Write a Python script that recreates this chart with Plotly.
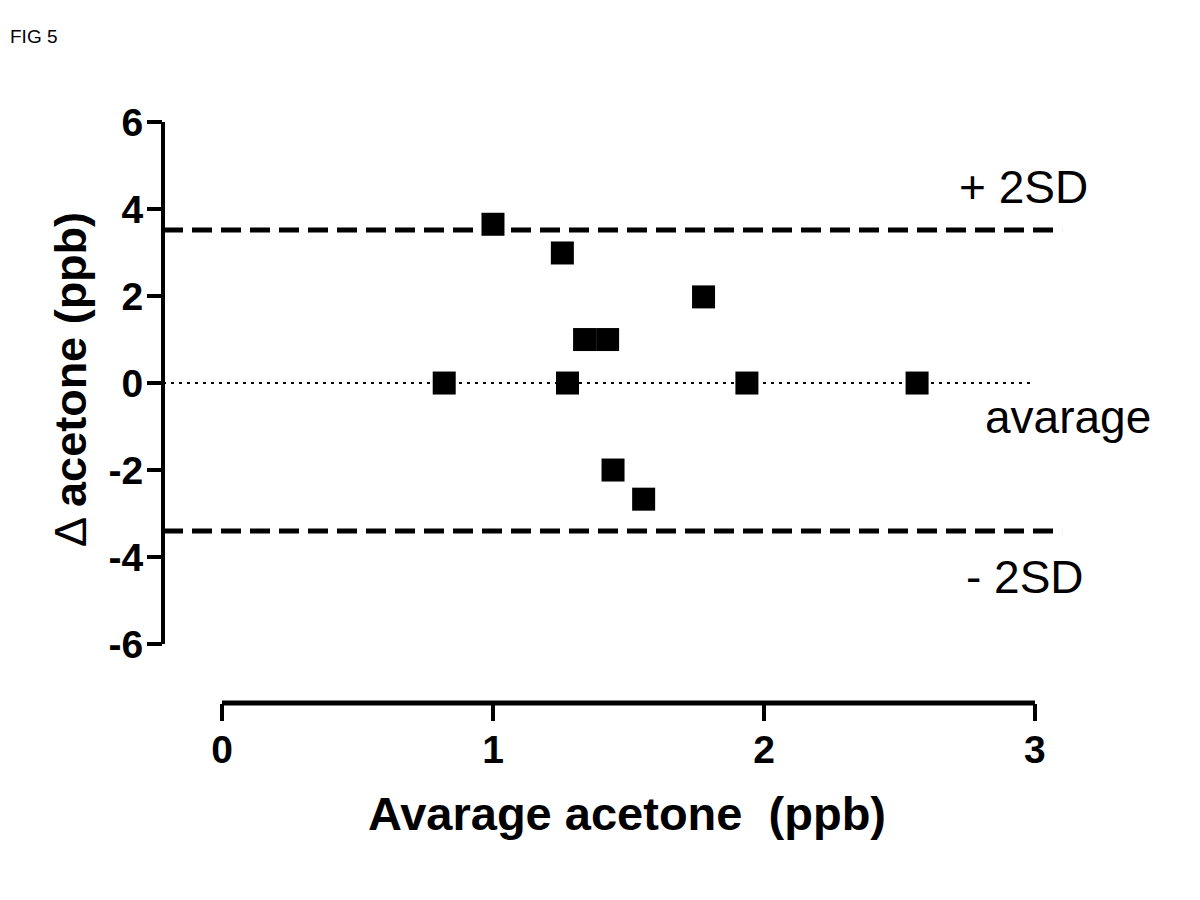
import plotly.graph_objects as go

# Data (Bland-Altman plot)
avg_acetone = [0.82, 1.0, 1.256, 1.275, 1.338, 1.423, 1.443, 1.556, 1.777, 1.937, 2.565]
delta_acetone = [0.0, 3.65, 2.99, 0.0, 1.0, 1.0, -2.0, -2.67, 1.98, 0.0, 0.0]
mean_diff = 0.0
upper_2sd = 3.52
lower_2sd = -3.40

x_ticks = [0, 1, 2, 3]
y_ticks = [-6, -4, -2, 0, 2, 4, 6]

x_range = [-0.2177, 3.240]
y_range = [-7.356, 6.3]
line_x_end_sd = 3.1
line_x_end_mean = 3.0

# page body has an 8px margin; figure sized to fit the 1200x900 window
OFF = 8
PL, PT, PW, PH = 163, 109, 937, 594  # plot area in window pixels


def px(x):
    return (x - PL) / PW


def py(y):
    return (PT + PH - y) / PH


fig = go.Figure()

# +/- 2SD dashed lines
for val in (upper_2sd, lower_2sd):
    fig.add_trace(go.Scatter(
        x=[x_range[0], line_x_end_sd], y=[val, val], mode="lines",
        line=dict(color="black", width=5, dash="20px,9px"),
        hoverinfo="skip", showlegend=False))

# mean dotted line
fig.add_trace(go.Scatter(
    x=[x_range[0], line_x_end_mean], y=[mean_diff, mean_diff], mode="lines",
    line=dict(color="black", width=2, dash="3px,5px"),
    hoverinfo="skip", showlegend=False))

# data points
fig.add_trace(go.Scatter(
    x=avg_acetone, y=delta_acetone, mode="markers",
    marker=dict(symbol="square", size=23, color="black", line=dict(width=0)),
    showlegend=False))

W, H = 1200 - 2 * OFF, 900 - 2 * OFF
ann = dict(xref="paper", yref="paper", xanchor="center", yanchor="middle", showarrow=False)
fig.update_layout(
    width=W, height=H,
    margin=dict(l=PL - OFF, r=W - (PL - OFF) - PW, t=PT - OFF, b=H - (PT - OFF) - PH),
    plot_bgcolor="white", paper_bgcolor="white",
    font=dict(family="Liberation Sans, Arial, sans-serif", color="black"),
    xaxis=dict(range=x_range, tickvals=x_ticks, ticktext=[str(v) for v in x_ticks],
               showgrid=False, zeroline=False, showline=False,
               ticks="outside", ticklen=17, tickwidth=4, tickcolor="black",
               ticklabelstandoff=-5,
               tickfont=dict(size=39, family="Liberation Sans, Arial", weight="bold")),
    yaxis=dict(range=y_range, tickvals=y_ticks, ticktext=[str(v) for v in y_ticks],
               showgrid=False, zeroline=False, showline=False,
               ticks="outside", ticklen=15, tickwidth=4, tickcolor="black",
               ticklabelstandoff=-4,
               tickfont=dict(size=39, family="Liberation Sans, Arial", weight="bold")),
    shapes=[
        # y axis line (from -6 to 6)
        dict(type="line", xref="paper", yref="y", x0=0, x1=0, y0=y_ticks[0], y1=y_ticks[-1],
             line=dict(color="black", width=4)),
        # x axis line (from 0 to 3), offset below
        dict(type="line", xref="x", yref="paper", x0=x_ticks[0], x1=x_ticks[-1], y0=0, y1=0,
             line=dict(color="black", width=5)),
    ],
    annotations=[
        dict(ann, text="+ 2SD", x=px(1023), y=py(187), font=dict(size=46)),
        dict(ann, text="avarage", x=px(1068), y=py(417), font=dict(size=46)),
        dict(ann, text="- 2SD", x=px(1025), y=py(577), font=dict(size=46)),
        dict(ann, text="<b>Avarage acetone  (ppb)</b>", x=px(627), y=py(813),
             font=dict(size=47)),
        dict(ann, text="Δ <b>acetone (ppb)</b>", textangle=-90, x=px(70), y=py(380),
             font=dict(size=45)),
        dict(ann, text="FIG 5", xanchor="left", x=px(8), y=py(36), font=dict(size=19)),
    ],
)

fig.write_html("out.html")
